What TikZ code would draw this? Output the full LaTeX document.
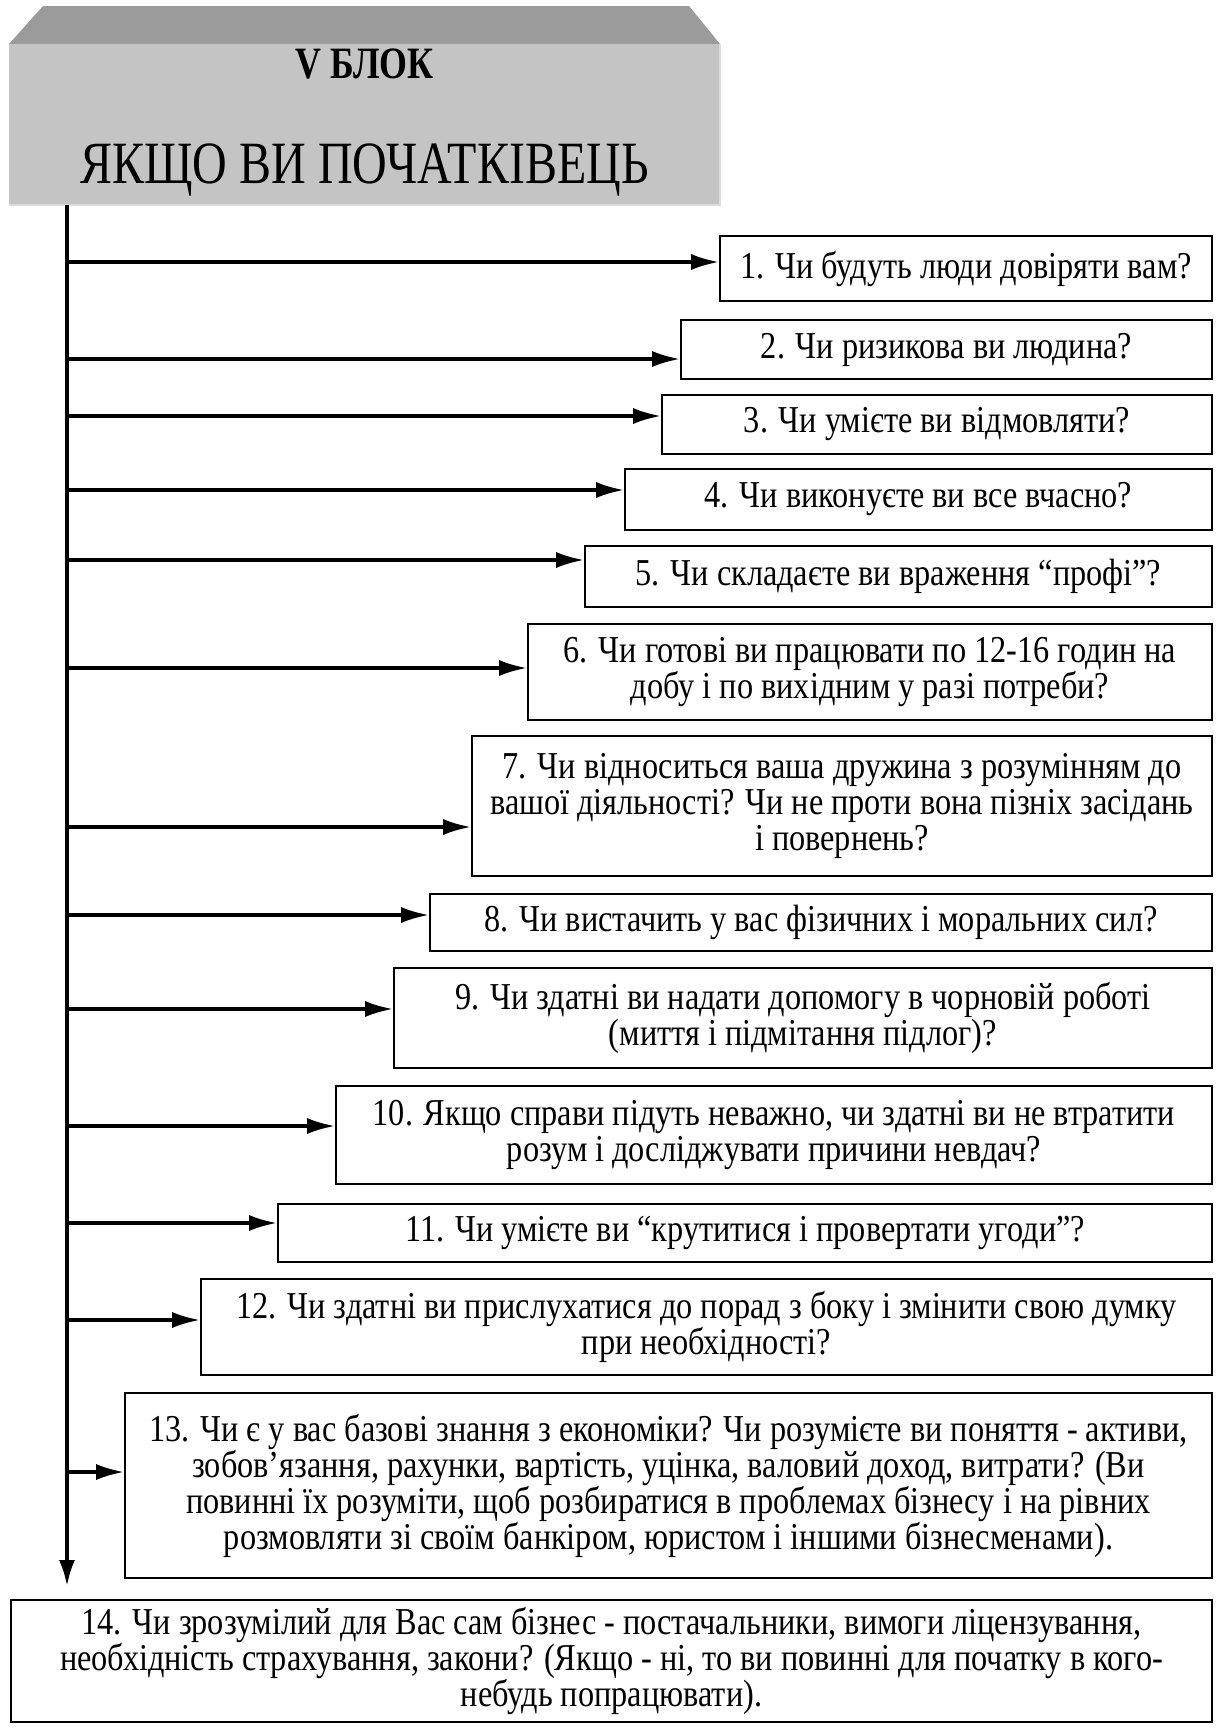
\documentclass[tikz,border=0pt]{standalone}
\usepackage{fontspec}
\setmainfont[FakeStretch=0.85]{Liberation Serif}
\newfontfamily\hdrfont[FakeStretch=0.8]{Liberation Serif}
\usepackage{tikz}
\usetikzlibrary{arrows.meta}
\usetikzlibrary{positioning}

\definecolor{hdrfront}{HTML}{C4C4C4}
\definecolor{hdrtop}{HTML}{9B9B9B}
\definecolor{hdredge}{HTML}{DCDCDC}

\begin{document}
\begin{tikzpicture}
[x=0.5pt,y=-0.5pt,
  every node/.style={font=\fontsize{19pt}{18pt}\selectfont},
  q/.style = {rectangle,draw,line width=0.8pt,align=center,inner sep=2pt},
  arr/.style = {-{Latex[length=14pt,width=8pt]},line width=1.7pt},
  spine/.style = {-{Latex[length=13pt,width=8pt]},line width=1.7pt}]
\useasboundingbox (0,0) rectangle (1223,1730);

% header block
\fill[hdrtop] (9,44) -- (43,6) -- (689,6) -- (720,44) -- cycle;
\fill[hdrfront] (9,44) rectangle (720,205);
\draw[hdredge,line width=1.2pt] (720,44) -- (720,205) -- (9,205);
\node[font=\hdrfont\fontsize{22.4pt}{24pt}\selectfont\bfseries] (blok) at (364.5,64) {V БЛОК};
\node[font=\hdrfont\fontsize{30pt}{32pt}\selectfont] (title) at (364.5,170) {ЯКЩО ВИ ПОЧАТКІВЕЦЬ};

\node[q,minimum width=246pt,minimum height=32.5pt] (q1) at (966,268.5) {1. Чи будуть люди довіряти вам?};
\node[q,minimum width=265.5pt,minimum height=29.5pt] (q2) at (946.5,349.5) {2. Чи ризикова ви людина?};
\node[q,minimum width=275pt,minimum height=29.5pt] (q3) at (937,424.5) {3. Чи умієте ви відмовляти?};
\node[q,minimum width=293.5pt,minimum height=30.5pt] (q4) at (918.5,499.5) {4. Чи виконуєте ви все вчасно?};
\node[q,minimum width=313.5pt,minimum height=30.5pt] (q5) at (898.5,576.5) {5. Чи складаєте ви враження “профі”?};
\node[q,minimum width=342pt,minimum height=48pt] (q6) at (870,672) {6. Чи готові ви працювати по 12-16 годин на\\добу і по вихідним у разі потреби?};
\node[q,minimum width=370pt,minimum height=70pt] (q7) at (842,806) {7. Чи відноситься ваша дружина з розумінням до\\вашої діяльності? Чи не проти вона пізніх засідань\\і повернень?};
\node[q,minimum width=391pt,minimum height=28.5pt] (q8) at (821,922.5) {8. Чи вистачить у вас фізичних і моральних сил?};
\node[q,minimum width=409pt,minimum height=50pt] (q9) at (803,1018) {9. Чи здатні ви надати допомогу в чорновій роботі\\(миття і підмітання підлог)?};
\node[q,minimum width=438pt,minimum height=49pt] (q10) at (774,1135) {10. Якщо справи підуть неважно, чи здатні ви не втратити\\розум і досліджувати причини невдач?};
\node[q,minimum width=467pt,minimum height=29pt] (q11) at (745,1233) {11. Чи умієте ви “крутитися і провертати угоди”?};
\node[q,minimum width=505.5pt,minimum height=48pt] (q12) at (706.5,1327) {12. Чи здатні ви прислухатися до порад з боку і змінити свою думку\\при необхідності?};
\node[q,minimum width=543.5pt,minimum height=92.5pt] (q13) at (668.5,1485.5) {13. Чи є у вас базові знання з економіки? Чи розумієте ви поняття - активи,\\зобов’язання, рахунки, вартість, уцінка, валовий доход, витрати? (Ви\\повинні їх розуміти, щоб розбиратися в проблемах бізнесу і на рівних\\розмовляти зі своїм банкіром, юристом і іншими бізнесменами).};
\node[q,minimum width=600.5pt,minimum height=61pt] (q14) at (611.5,1661) {14. Чи зрозумілий для Вас сам бізнес - постачальники, вимоги ліцензування,\\необхідність страхування, закони? (Якщо - ні, то ви повинні для початку в кого-\\небудь попрацювати).};

% spine and branches
\coordinate (top) at (67,205);
\coordinate (bottom) at (67,1586);
\draw[spine] (top) -- (bottom);

\coordinate (a1) at (67,262);
\coordinate (a2) at (67,359);
\coordinate (a3) at (67,416);
\coordinate (a4) at (67,490);
\coordinate (a5) at (67,560);
\coordinate (a6) at (67,668);
\coordinate (a7) at (67,827);
\coordinate (a8) at (67,915);
\coordinate (a9) at (67,1009);
\coordinate (a10) at (67,1126);
\coordinate (a11) at (67,1223);
\coordinate (a12) at (67,1320);
\coordinate (a13) at (67,1472);

\draw[arr] (a1) -- (a1 -| q1.west);
\draw[arr] (a2) -- (a2 -| q2.west);
\draw[arr] (a3) -- (a3 -| q3.west);
\draw[arr] (a4) -- (a4 -| q4.west);
\draw[arr] (a5) -- (a5 -| q5.west);
\draw[arr] (a6) -- (a6 -| q6.west);
\draw[arr] (a7) -- (a7 -| q7.west);
\draw[arr] (a8) -- (a8 -| q8.west);
\draw[arr] (a9) -- (a9 -| q9.west);
\draw[arr] (a10) -- (a10 -| q10.west);
\draw[arr] (a11) -- (a11 -| q11.west);
\draw[arr] (a12) -- (a12 -| q12.west);
\draw[arr] (a13) -- (a13 -| q13.west);
\end{tikzpicture}
\end{document}
